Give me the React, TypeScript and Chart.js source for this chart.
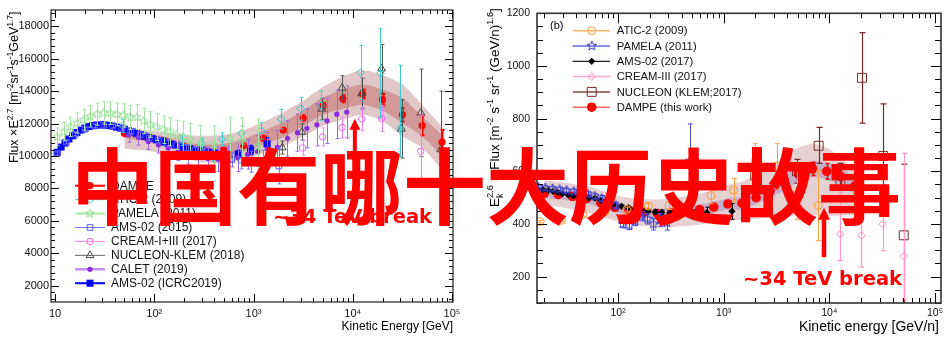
import React, { useEffect, useRef } from 'react';
import { Chart, registerables } from 'chart.js';

Chart.register(...registerables);

// ===================== LEFT PANEL (proton) =====================
const P_X_TICKS = [10, 100, 1000, 10000, 100000];
const P_X_LABELS = ['10', '10²', '10³', '10⁴', '10⁵'];
const P_Y_TICKS = [2000, 4000, 6000, 8000, 10000, 12000, 14000, 16000, 18000];

const DAMPE_P_E = [50, 79, 126, 200, 316, 501, 794, 1259, 1995, 3162, 5012, 7943, 12589, 19953, 31623, 50119, 79433];
const DAMPE_P = [11380, 11200, 10950, 10580, 10350, 10370, 10640, 11100, 11600, 12340, 13100, 13530, 13820, 13470, 12540, 11880, 10850];
const DAMPE_P_ERR = [40, 40, 40, 50, 60, 70, 80, 100, 120, 150, 180, 220, 280, 350, 420, 600, 750];
const DAMPE_P_OUT_HI = [11700, 11600, 11450, 11300, 11250, 11300, 11600, 12100, 12700, 13400, 14250, 14900, 15290, 15000, 14400, 13160, 11800];
const DAMPE_P_OUT_LO = [10450, 10350, 10150, 9850, 9600, 9550, 9750, 10150, 10600, 11200, 11850, 12250, 12540, 12150, 11200, 10500, 9150];
const DAMPE_P_IN_HI = [11550, 11420, 11200, 10900, 10700, 10750, 11050, 11550, 12100, 12800, 13600, 14100, 14400, 14100, 13570, 12440, 11300];
const DAMPE_P_IN_LO = [11100, 10950, 10700, 10300, 10050, 10050, 10300, 10700, 11150, 11850, 12550, 12900, 13160, 12800, 12030, 11200, 10000];

const ATIC_P_E = [48, 190, 302, 480, 760, 1200, 1900, 3000, 4800, 12000, 19000, 30000];
const ATIC_P = [11860, 10950, 10750, 11030, 11400, 11550, 12270, 12910, 13100, 15150, 15100, 11700];
const ATIC_P_ERR_HI = [400, 300, 350, 400, 450, 500, 600, 700, 900, 1670, 2750, 3900];
const ATIC_P_ERR_LO = [400, 300, 350, 400, 450, 500, 600, 700, 900, 1670, 2750, 1750];

const PAMELA_P_E = [10.5, 12.3, 14.3, 16.7, 19.5, 22.7, 26.5, 30.9, 36.1, 42.1, 49.1, 57.3, 66.8, 77.9, 90.9, 106, 124, 144, 168, 196, 229, 290, 400, 580, 760, 1100];
const PAMELA_P = [11180, 11500, 11800, 12030, 12230, 12440, 12580, 12650, 12650, 12560, 12500, 12380, 12400, 12150, 11950, 11780, 11620, 11500, 11300, 11200, 11000, 10830, 10700, 11100, 10900, 10600];
const PAMELA_P_ERR = [550, 570, 600, 620, 640, 660, 680, 700, 700, 700, 720, 740, 760, 780, 800, 820, 850, 880, 900, 950, 1000, 1050, 1150, 1300, 1450, 1700];

const AMS15_P_E = [10.5, 13, 16, 20, 25, 31, 38, 47, 58, 72, 89, 110, 136, 168, 208, 257, 318, 393, 486, 601, 750, 950, 1250, 1800];
const AMS15_P = [10150, 10850, 11350, 11650, 11850, 11900, 11850, 11700, 11500, 11300, 11100, 10950, 10800, 10650, 10500, 10350, 10200, 10000, 9850, 9780, 9750, 9650, 9550, 9380];
const AMS15_P_ERR = [100, 100, 100, 100, 100, 100, 110, 120, 130, 140, 150, 160, 170, 190, 210, 240, 280, 320, 380, 450, 550, 650, 800, 1100];

const CREAM_P_E = [3120, 4970, 7810, 12300, 19500, 48500];
const CREAM_P = [10500, 11180, 11760, 12280, 12310, 10290];
const CREAM_P_ERR = [450, 550, 650, 720, 800, 2200];

const NUCLEON_P_E = [1950, 3080, 4900, 7800, 12300, 19500, 31000, 48500, 77000];
const NUCLEON_P = [10520, 11480, 12900, 14200, 13850, 15380, 11670, 12660, 10400];
const NUCLEON_P_ERR = [400, 500, 650, 750, 950, 1500, 1800, 2700, 3600];

const CALET_P_E = [55, 69, 87, 110, 138, 174, 219, 275, 347, 437, 550, 692, 871, 1097, 1380, 1740, 2200, 2770, 3450, 4350, 5500, 6900, 8700];
const CALET_P = [11300, 11150, 10900, 10700, 10500, 10300, 10100, 9950, 9850, 9800, 9800, 9900, 10100, 10300, 10450, 10530, 11090, 11440, 11710, 11920, 12170, 12580, 12710];
const CALET_P_ERR = [450, 470, 500, 520, 550, 580, 600, 650, 700, 750, 800, 850, 900, 950, 1000, 1050, 1100, 1150, 1200, 1300, 1400, 1500, 1600];

const AMS19_P_E = [10.5, 11.5, 12.6, 13.8, 15.1, 16.6, 18.2, 20, 22, 24, 26.3, 28.8, 31.6, 34.7, 38, 41.7, 45.7, 50, 55, 60, 66, 72, 79, 87, 95, 105, 115, 126, 138, 151, 166, 182, 200, 230, 265, 300, 350, 410, 480, 550, 700, 935, 1370];
const AMS19_P = [10230, 10550, 10800, 11050, 11250, 11450, 11600, 11720, 11820, 11880, 11910, 11920, 11910, 11880, 11840, 11780, 11720, 11650, 11560, 11480, 11400, 11320, 11230, 11150, 11070, 11000, 10930, 10860, 10790, 10720, 10650, 10590, 10520, 10440, 10380, 10320, 10250, 10180, 10080, 9960, 10120, 10370, 10740];
const AMS19_P_ERR = [50, 50, 50, 50, 50, 50, 50, 50, 50, 50, 50, 50, 50, 50, 50, 50, 50, 50, 50, 50, 50, 50, 50, 50, 50, 55, 55, 60, 60, 65, 70, 75, 80, 85, 90, 100, 110, 125, 150, 180, 220, 280, 380];

const P_ARROW = { x: 10500, top: 12300, bottom: 8500 };

// ===================== RIGHT PANEL (helium) =====================
const HE_X_TICKS = [100, 1000, 10000, 100000];
const HE_X_LABELS = ['10²', '10³', '10⁴', '10⁵'];
const HE_Y_TICKS = [200, 400, 600, 800, 1000, 1200];

const DAMPE_HE_E = [20, 27.2, 37, 50.5, 68.7, 93.5, 127, 173, 235, 320, 435, 592, 805, 1095, 1490, 2027, 2757, 3750, 5100, 6940, 9440, 12840, 17470];
const DAMPE_HE = [516, 512, 505, 497, 480, 463, 452, 444, 440, 443, 448, 455, 464, 476, 479, 500, 526, 556, 590, 609, 600, 580, 545];
const DAMPE_HE_ERR = [3, 3, 3, 3, 3, 3, 3, 4, 4, 5, 6, 7, 8, 10, 11, 13, 15, 18, 21, 25, 30, 36, 45];
const DAMPE_HE_OUT_HI = [565, 560, 552, 545, 528, 510, 500, 495, 493, 497, 505, 515, 530, 548, 560, 590, 620, 655, 690, 705, 690, 650, 610];
const DAMPE_HE_OUT_LO = [470, 465, 455, 445, 428, 412, 400, 392, 388, 388, 392, 398, 405, 412, 415, 420, 425, 430, 432, 432, 430, 432, 435];
const DAMPE_HE_IN_HI = [535, 530, 523, 515, 498, 481, 470, 462, 458, 461, 467, 474, 485, 498, 503, 525, 553, 585, 620, 640, 632, 612, 578];
const DAMPE_HE_IN_LO = [497, 494, 487, 479, 462, 445, 434, 426, 422, 425, 429, 436, 443, 454, 455, 475, 499, 527, 560, 578, 568, 548, 512];

const ATIC_HE_E = [18.3, 29.2, 46.9, 75.3, 121, 194, 305, 480, 756, 1240, 2000, 3200, 4960, 7860];
const ATIC_HE = [409, 414, 436, 446, 455, 468, 470, 474, 508, 528, 640, 620, 516, 470];
const ATIC_HE_ERR = [5, 5, 6, 7, 9, 11, 14, 18, 30, 45, 65, 85, 100, 133];

const PAMELA_HE_E = [17.6, 20.5, 24, 28, 32.5, 38, 44, 51.5, 60, 70, 81.5, 95, 111, 128, 145, 167, 190, 216, 250, 290, 480];
const PAMELA_HE = [540, 537, 534, 531, 527, 523, 518, 513, 505, 497, 488, 470, 400, 395, 411, 430, 420, 399, 415, 405, 640];
const PAMELA_HE_ERR_HI = [8, 8, 8, 8, 8, 9, 9, 10, 10, 11, 12, 13, 15, 16, 17, 18, 20, 22, 25, 28, 140];
const PAMELA_HE_ERR_LO = [8, 8, 8, 8, 8, 9, 9, 10, 10, 11, 12, 13, 15, 16, 17, 18, 20, 22, 25, 28, 160];

const AMS_HE_E = [17.6, 19.5, 21.8, 24.2, 26.8, 29.8, 33.8, 37.6, 42, 47, 53, 60.5, 68.5, 78, 90, 108, 125, 145, 168, 194, 225, 259, 310, 373, 499, 693, 1197];
const AMS_HE = [531, 530, 528, 524, 520, 515, 510, 507, 504, 501, 499, 498, 490, 481, 474, 467, 462, 457, 452, 448, 446, 444, 440, 436, 440, 444, 448];
const AMS_HE_ERR = [4, 4, 4, 4, 4, 4, 4, 4, 4, 4, 4, 5, 5, 5, 5, 5, 6, 6, 7, 7, 8, 9, 10, 12, 15, 20, 30];

const CREAM_HE_E = [4950, 12700, 20100, 32000, 50600];
const CREAM_HE = [479, 362, 356, 399, 278];
const CREAM_HE_ERR_HI = [60, 170, 200, 140, 390];
const CREAM_HE_ERR_LO = [60, 100, 120, 100, 165];

const NUCLEON_HE_E = [1990, 4950, 7920, 12700, 20400, 32300, 50600];
const NUCLEON_HE = [584, 600, 697, 560, 955, 658, 357];
const NUCLEON_HE_ERR_HI = [25, 45, 70, 70, 172, 198, 270];
const NUCLEON_HE_ERR_LO = [25, 45, 67, 70, 172, 198, 300];

const HE_ARROW = { x: 8900, top: 462, bottom: 274 };

// ===================== helpers =====================
const SANS = '"Liberation Sans", Arial, Helvetica, sans-serif';

function pts(E: number[], V: number[]) {
  return E.map((e, i) => ({ x: e, y: V[i] }));
}

function makeStar(color: string, r: number, lw: number) {
  const s = Math.ceil(r * 2 + 4);
  const c = document.createElement('canvas');
  c.width = s;
  c.height = s;
  const ctx = c.getContext('2d')!;
  ctx.strokeStyle = color;
  ctx.lineWidth = lw;
  ctx.beginPath();
  for (let i = 0; i < 10; i++) {
    const rr = i % 2 === 0 ? r : r * 0.45;
    const a = -Math.PI / 2 + (i * Math.PI) / 5;
    const px = s / 2 + rr * Math.cos(a);
    const py = s / 2 + rr * Math.sin(a);
    if (i === 0) ctx.moveTo(px, py);
    else ctx.lineTo(px, py);
  }
  ctx.closePath();
  ctx.stroke();
  return c;
}

function drawMarker(ctx: CanvasRenderingContext2D, m: any, x: number, y: number) {
  const r = m.radius;
  if (m.image) {
    ctx.drawImage(m.image, x - m.image.width / 2, y - m.image.height / 2);
    return;
  }
  ctx.beginPath();
  if (m.style === 'circle') ctx.arc(x, y, r, 0, Math.PI * 2);
  else if (m.style === 'rect') {
    const h = r * Math.SQRT1_2;
    ctx.rect(x - h, y - h, 2 * h, 2 * h);
  } else if (m.style === 'rectRot') {
    ctx.moveTo(x - r, y);
    ctx.lineTo(x, y - r);
    ctx.lineTo(x + r, y);
    ctx.lineTo(x, y + r);
    ctx.closePath();
  } else if (m.style === 'triangle') {
    for (let k = 0; k < 3; k++) {
      const a = (k * 2 * Math.PI) / 3;
      const px = x + Math.sin(a) * r;
      const py = y - Math.cos(a) * r;
      if (k === 0) ctx.moveTo(px, py);
      else ctx.lineTo(px, py);
    }
    ctx.closePath();
  }
  if (m.filled) {
    ctx.fillStyle = m.color;
    ctx.fill();
  } else {
    ctx.strokeStyle = m.color;
    ctx.lineWidth = 1;
    ctx.stroke();
  }
}

function series(E: number[], V: number[], m: any, errHi: number[] | null, errLo: number[] | null, errColor: string, errWidth = 1, cap = 2) {
  return {
    type: 'scatter',
    data: pts(E, V),
    showLine: false,
    pointStyle: m.image || m.style,
    pointRadius: m.radius,
    pointHoverRadius: m.radius,
    pointBorderColor: m.color,
    pointBackgroundColor: m.filled ? m.color : 'rgba(0,0,0,0)',
    pointBorderWidth: m.filled ? 0 : 1,
    errHi,
    errLo: errLo || errHi,
    errColor,
    errWidth,
    errCap: cap,
    order: 1,
  };
}

function band(E: number[], hi: number[], lo: number[], color: string) {
  return [
    { type: 'line', data: pts(E, hi), borderWidth: 0, pointRadius: 0, fill: '+1', backgroundColor: color, tension: 0.25, order: 10 },
    { type: 'line', data: pts(E, lo), borderWidth: 0, pointRadius: 0, fill: false, backgroundColor: color, tension: 0.25, order: 10 },
  ];
}

const errorBarPlugin = {
  id: 'errbars',
  beforeDatasetDraw(chart: any, args: any) {
    const ds: any = chart.data.datasets[args.index];
    if (!ds.errHi) return;
    const { ctx, chartArea: ca } = chart;
    const x = chart.scales.x;
    const y = chart.scales.y;
    ctx.save();
    ctx.beginPath();
    ctx.rect(ca.left, ca.top, ca.right - ca.left, ca.bottom - ca.top);
    ctx.clip();
    ctx.strokeStyle = ds.errColor;
    ctx.lineWidth = ds.errWidth;
    ctx.beginPath();
    ds.data.forEach((p: any, i: number) => {
      const px = Math.round(x.getPixelForValue(p.x)) + 0.5;
      const yh = y.getPixelForValue(p.y + ds.errHi[i]);
      const yl = y.getPixelForValue(p.y - ds.errLo[i]);
      ctx.moveTo(px, yh);
      ctx.lineTo(px, yl);
      if (ds.errCap > 0) {
        ctx.moveTo(px - ds.errCap, yh);
        ctx.lineTo(px + ds.errCap, yh);
        ctx.moveTo(px - ds.errCap, yl);
        ctx.lineTo(px + ds.errCap, yl);
      }
    });
    ctx.stroke();
    ctx.restore();
  },
};

function framePlugin(cfg: any) {
  return {
    id: 'frame',
    afterDatasetsDraw(chart: any) {
      const { ctx, chartArea: ca } = chart;
      const x = chart.scales.x;
      const y = chart.scales.y;
      ctx.save();
      // arrow
      if (cfg.arrow) {
        const a = cfg.arrow;
        const ax = x.getPixelForValue(a.x);
        const yt = y.getPixelForValue(a.top);
        const yb = y.getPixelForValue(a.bottom);
        ctx.fillStyle = '#ff0000';
        ctx.fillRect(ax - a.w / 2, yt + a.head * 0.8, a.w, yb - yt - a.head * 0.8);
        ctx.beginPath();
        ctx.moveTo(ax, yt);
        ctx.lineTo(ax + a.hw, yt + a.head);
        ctx.lineTo(ax - a.hw, yt + a.head);
        ctx.closePath();
        ctx.fill();
      }
      ctx.strokeStyle = '#000';
      ctx.lineWidth = 1;
      ctx.beginPath();
      const d0 = Math.floor(Math.log10(x.min));
      const d1 = Math.ceil(Math.log10(x.max));
      for (let d = d0; d <= d1; d++) {
        for (let m = 1; m <= 9; m++) {
          const v = m * Math.pow(10, d);
          if (v < x.min || v > x.max) continue;
          const px = Math.round(x.getPixelForValue(v)) + 0.5;
          const len = m === 1 ? cfg.xMajor : cfg.xMinor;
          ctx.moveTo(px, ca.bottom);
          ctx.lineTo(px, ca.bottom - len);
          ctx.moveTo(px, ca.top);
          ctx.lineTo(px, ca.top + len);
        }
      }
      const start = Math.ceil(y.min / cfg.yMinorStep) * cfg.yMinorStep;
      for (let v = start; v <= y.max + 1e-6; v += cfg.yMinorStep) {
        const q = v / cfg.yMajorStep;
        const major = Math.abs(q - Math.round(q)) < 1e-6;
        const len = major ? cfg.yMajor : cfg.yMinor;
        const py = Math.round(y.getPixelForValue(v)) + 0.5;
        ctx.moveTo(ca.left, py);
        ctx.lineTo(ca.left + len, py);
        ctx.moveTo(ca.right, py);
        ctx.lineTo(ca.right - len, py);
      }
      ctx.stroke();
      ctx.lineWidth = cfg.frameWidth;
      ctx.strokeStyle = cfg.frameColor;
      ctx.strokeRect(ca.left, ca.top, ca.right - ca.left, ca.bottom - ca.top);
      ctx.restore();
    },
  };
}

function drawRich(ctx: CanvasRenderingContext2D, segs: any[], x: number, y: number, size: number, rotate: boolean) {
  ctx.save();
  ctx.translate(x, y);
  if (rotate) ctx.rotate(-Math.PI / 2);
  ctx.fillStyle = '#000';
  ctx.textBaseline = 'alphabetic';
  ctx.textAlign = 'left';
  let cx = 0;
  const small = size * 0.68;
  for (const s of segs) {
    if (s.t === 'n') {
      ctx.font = `${size}px ${SANS}`;
      ctx.fillText(s.s, cx, 0);
      cx += ctx.measureText(s.s).width;
    } else if (s.t === 'sup') {
      ctx.font = `${small}px ${SANS}`;
      ctx.fillText(s.s, cx, -size * 0.42);
      cx += ctx.measureText(s.s).width;
    } else if (s.t === 'ss') {
      ctx.font = `${small}px ${SANS}`;
      ctx.fillText(s.s, cx, -size * 0.42);
      ctx.fillText(s.sub, cx, size * 0.28);
      cx += Math.max(ctx.measureText(s.s).width, ctx.measureText(s.sub).width);
    }
  }
  ctx.restore();
}

function decorPlugin(cfg: any) {
  return {
    id: 'decor',
    afterDraw(chart: any) {
      const ctx = chart.ctx;
      drawRich(ctx, cfg.yTitle, cfg.yTitleX, cfg.yTitleY, cfg.yTitleSize, true);
      ctx.save();
      ctx.font = `${cfg.xTitleSize}px ${SANS}`;
      ctx.fillStyle = '#000';
      ctx.textAlign = 'right';
      ctx.textBaseline = 'alphabetic';
      ctx.fillText(cfg.xTitle, cfg.xTitleX, cfg.xTitleY);
      if (cfg.tag) {
        ctx.textAlign = 'left';
        ctx.font = `${cfg.tag.size}px ${SANS}`;
        ctx.fillText(cfg.tag.text, cfg.tag.x, cfg.tag.y);
      }
      const L = cfg.legend;
      ctx.font = `${L.size}px ${SANS}`;
      ctx.textBaseline = 'middle';
      ctx.textAlign = 'left';
      L.items.forEach((it: any, i: number) => {
        const yy = L.y0 + i * L.dy;
        ctx.strokeStyle = it.line;
        ctx.lineWidth = it.lw;
        ctx.beginPath();
        ctx.moveTo(L.x0, yy);
        ctx.lineTo(L.x1, yy);
        ctx.stroke();
        drawMarker(ctx, it.m, L.mx, yy);
        ctx.fillStyle = '#111';
        ctx.fillText(it.label, L.tx, yy + 0.5);
      });
      ctx.restore();
    },
  };
}

function buildLeft(canvas: HTMLCanvasElement) {
  const star = makeStar('#8fd98f', 4.5, 1);
  const mDampe = { style: 'circle', radius: 3.6, color: '#ff0000', filled: true };
  const mAtic = { style: 'rectRot', radius: 3.8, color: '#2ec4c8', filled: false };
  const mPamela = { style: 'star', radius: 4.5, color: '#8fd98f', filled: false, image: star };
  const mAms15 = { style: 'rect', radius: 4, color: '#5b5bff', filled: false };
  const mCream = { style: 'circle', radius: 3.2, color: '#f060f0', filled: false };
  const mNucleon = { style: 'triangle', radius: 4.5, color: '#444444', filled: false };
  const mCalet = { style: 'circle', radius: 2.6, color: '#8a2be2', filled: true };
  const mAms19 = { style: 'rect', radius: 5, color: '#0000ff', filled: true };

  const datasets: any[] = [
    ...band(DAMPE_P_E, DAMPE_P_OUT_HI, DAMPE_P_OUT_LO, 'rgba(165,85,85,0.33)'),
    ...band(DAMPE_P_E, DAMPE_P_IN_HI, DAMPE_P_IN_LO, 'rgba(195,70,70,0.38)'),
    series(PAMELA_P_E, PAMELA_P, mPamela, PAMELA_P_ERR, null, '#a6e3a6', 1, 2),
    series(AMS15_P_E, AMS15_P, mAms15, AMS15_P_ERR, null, '#7777ff', 1, 2),
    series(CALET_P_E, CALET_P, mCalet, CALET_P_ERR, null, '#a066f0', 1, 2),
    series(ATIC_P_E, ATIC_P, mAtic, ATIC_P_ERR_HI, ATIC_P_ERR_LO, '#40cccc', 1, 2),
    series(CREAM_P_E, CREAM_P, mCream, CREAM_P_ERR, null, '#f080f0', 1, 2),
    series(NUCLEON_P_E, NUCLEON_P, mNucleon, NUCLEON_P_ERR, null, '#555555', 1, 2),
    series(AMS19_P_E, AMS19_P, mAms19, AMS19_P_ERR, null, '#0000ff', 1.5, 2),
    series(DAMPE_P_E, DAMPE_P, mDampe, DAMPE_P_ERR, null, '#ff0000', 2, 2),
  ];

  return new Chart(canvas, {
    type: 'scatter',
    data: { datasets },
    options: {
      animation: false,
      responsive: false,
      events: [],
      layout: { padding: { left: 0, right: 27, top: 10, bottom: 0 } },
      plugins: { legend: { display: false }, tooltip: { enabled: false } },
      scales: {
        x: {
          type: 'logarithmic',
          min: 9.1,
          max: 102400,
          grid: { display: false, drawTicks: false },
          border: { display: false },
          afterBuildTicks: (s: any) => { s.ticks = P_X_TICKS.map((v) => ({ value: v })); },
          afterFit: (s: any) => { s.height = 50; },
          ticks: {
            autoSkip: false,
            maxRotation: 0,
            padding: 5,
            color: '#111',
            font: { family: SANS, size: 11 },
            callback: (_v: any, i: number) => P_X_LABELS[i],
          },
        },
        y: {
          type: 'linear',
          min: 1000,
          max: 19000,
          grid: { display: false, drawTicks: false },
          border: { display: false },
          afterBuildTicks: (s: any) => { s.ticks = P_Y_TICKS.map((v) => ({ value: v })); },
          afterFit: (s: any) => { s.width = 51; },
          ticks: {
            padding: 2,
            color: '#111',
            font: { family: SANS, size: 11 },
            callback: (v: any) => String(v),
          },
        },
      },
    } as any,
    plugins: [
      errorBarPlugin,
      framePlugin({ xMajor: 8, xMinor: 4, yMajor: 8, yMinor: 4, yMinorStep: 400, yMajorStep: 2000, frameWidth: 1.2, frameColor: '#222', arrow: { ...P_ARROW, w: 4, hw: 5.5, head: 11 } }),
      decorPlugin({
        yTitle: [
          { t: 'n', s: 'Flux ×E' }, { t: 'sup', s: '2.7' }, { t: 'n', s: ' [m' }, { t: 'sup', s: '-2' },
          { t: 'n', s: 'sr' }, { t: 'sup', s: '-1' }, { t: 'n', s: 's' }, { t: 'sup', s: '-1' },
          { t: 'n', s: 'GeV' }, { t: 'sup', s: '1.7' }, { t: 'n', s: ']' },
        ],
        yTitleX: 18,
        yTitleY: 163,
        yTitleSize: 12.5,
        xTitle: 'Kinetic Energy [GeV]',
        xTitleX: 453,
        xTitleY: 330,
        xTitleSize: 12,
        legend: {
          x0: 75, x1: 105, mx: 90, tx: 111, y0: 185.7, dy: 13.93, size: 12,
          items: [
            { label: 'DAMPE', line: '#ff0000', lw: 2, m: mDampe },
            { label: 'ATIC-2 (2009)', line: '#40cccc', lw: 1, m: mAtic },
            { label: 'PAMELA (2011)', line: '#b5ebb5', lw: 2.5, m: mPamela },
            { label: 'AMS-02 (2015)', line: '#7777ff', lw: 1, m: mAms15 },
            { label: 'CREAM-I+III (2017)', line: '#f080f0', lw: 1, m: mCream },
            { label: 'NUCLEON-KLEM (2018)', line: '#666666', lw: 1, m: mNucleon },
            { label: 'CALET (2019)', line: '#c090f5', lw: 2.5, m: mCalet },
            { label: 'AMS-02 (ICRC2019)', line: '#0000ff', lw: 2, m: mAms19 },
          ],
        },
      }),
    ],
  } as any);
}

function buildRight(canvas: HTMLCanvasElement) {
  const star = makeStar('#3a3acc', 5, 1);
  const mAtic = { style: 'circle', radius: 4, color: '#ff9933', filled: false };
  const mPamela = { style: 'star', radius: 5, color: '#3a3acc', filled: false, image: star };
  const mAms = { style: 'rectRot', radius: 3.6, color: '#000000', filled: true };
  const mCream = { style: 'rectRot', radius: 3.8, color: '#ff8fc0', filled: false };
  const mNucleon = { style: 'rect', radius: 6.3, color: '#7a2a2a', filled: false };
  const mDampe = { style: 'circle', radius: 4.8, color: '#ff0000', filled: true };

  const datasets: any[] = [
    ...band(DAMPE_HE_E, DAMPE_HE_OUT_HI, DAMPE_HE_OUT_LO, 'rgba(160,90,90,0.28)'),
    ...band(DAMPE_HE_E, DAMPE_HE_IN_HI, DAMPE_HE_IN_LO, 'rgba(110,115,215,0.33)'),
    series(ATIC_HE_E, ATIC_HE, mAtic, ATIC_HE_ERR, null, '#ffa040', 1, 2.5),
    series(PAMELA_HE_E, PAMELA_HE, mPamela, PAMELA_HE_ERR_HI, PAMELA_HE_ERR_LO, '#4a4ad8', 1, 2.5),
    series(CREAM_HE_E, CREAM_HE, mCream, CREAM_HE_ERR_HI, CREAM_HE_ERR_LO, '#ff99c8', 1.2, 2.5),
    series(NUCLEON_HE_E, NUCLEON_HE, mNucleon, NUCLEON_HE_ERR_HI, NUCLEON_HE_ERR_LO, '#7a2a2a', 1.2, 3),
    series(AMS_HE_E, AMS_HE, mAms, AMS_HE_ERR, null, '#000000', 1, 2),
    series(DAMPE_HE_E, DAMPE_HE, mDampe, DAMPE_HE_ERR, null, '#ff0000', 1.5, 2),
  ];

  return new Chart(canvas, {
    type: 'scatter',
    data: { datasets },
    options: {
      animation: false,
      responsive: false,
      events: [],
      layout: { padding: { left: 0, right: 10, top: 7, bottom: 0 } },
      plugins: { legend: { display: false }, tooltip: { enabled: false } },
      scales: {
        x: {
          type: 'logarithmic',
          min: 17.1,
          max: 114000,
          grid: { display: false, drawTicks: false },
          border: { display: false },
          afterBuildTicks: (s: any) => { s.ticks = HE_X_TICKS.map((v) => ({ value: v })); },
          afterFit: (s: any) => { s.height = 49; },
          ticks: {
            autoSkip: false,
            maxRotation: 0,
            padding: 4,
            color: '#111',
            font: { family: SANS, size: 10.5 },
            callback: (_v: any, i: number) => HE_X_LABELS[i],
          },
        },
        y: {
          type: 'linear',
          min: 100,
          max: 1200,
          grid: { display: false, drawTicks: false },
          border: { display: false },
          afterBuildTicks: (s: any) => { s.ticks = HE_Y_TICKS.map((v) => ({ value: v })); },
          afterFit: (s: any) => { s.width = 57; },
          ticks: {
            padding: 7,
            color: '#111',
            font: { family: SANS, size: 10.5 },
            callback: (v: any) => String(v),
          },
        },
      },
    } as any,
    plugins: [
      errorBarPlugin,
      framePlugin({ xMajor: 10, xMinor: 5, yMajor: 10, yMinor: 6, yMinorStep: 50, yMajorStep: 200, frameWidth: 1.6, frameColor: '#333', arrow: { ...HE_ARROW, w: 4.5, hw: 6, head: 12 } }),
      decorPlugin({
        yTitle: [
          { t: 'n', s: 'E' }, { t: 'ss', s: '2.6', sub: 'k' }, { t: 'n', s: ' × Flux [m' }, { t: 'sup', s: '-2' },
          { t: 'n', s: ' s' }, { t: 'sup', s: '-1' }, { t: 'n', s: ' sr' }, { t: 'sup', s: '-1' },
          { t: 'n', s: ' (GeV/n)' }, { t: 'sup', s: '1.6' }, { t: 'n', s: ']' },
        ],
        yTitleX: 19,
        yTitleY: 207,
        yTitleSize: 13.5,
        xTitle: 'Kinetic energy [GeV/n]',
        xTitleX: 459,
        xTitleY: 331,
        xTitleSize: 14,
        tag: { text: '(b)', x: 70, y: 29, size: 11 },
        legend: {
          x0: 92.7, x1: 130, mx: 111.7, tx: 136.7, y0: 30.7, dy: 15.3, size: 11.3,
          items: [
            { label: 'ATIC-2 (2009)', line: '#ffb060', lw: 1.5, m: mAtic },
            { label: 'PAMELA (2011)', line: '#6a6ae0', lw: 1.5, m: mPamela },
            { label: 'AMS-02 (2017)', line: '#222222', lw: 1.2, m: mAms },
            { label: 'CREAM-III (2017)', line: '#ffa8d0', lw: 1.5, m: mCream },
            { label: 'NUCLEON (KLEM;2017)', line: '#8a4a4a', lw: 1.5, m: mNucleon },
            { label: 'DAMPE (this work)', line: '#ff6060', lw: 1.5, m: mDampe },
          ],
        },
      }),
    ],
  } as any);
}

export default function App() {
  const leftRef = useRef<HTMLCanvasElement>(null);
  const rightRef = useRef<HTMLCanvasElement>(null);

  useEffect(() => {
    const c1 = buildLeft(leftRef.current!);
    const c2 = buildRight(rightRef.current!);
    return () => {
      c1.destroy();
      c2.destroy();
    };
  }, []);

  const breakStyle: any = {
    position: 'absolute',
    font: 'bold 19.5px "DejaVu Sans", sans-serif',
    lineHeight: 1,
    color: '#ff0000',
    whiteSpace: 'nowrap',
  };

  return (
    <div style={{ position: 'absolute', left: 0, top: 0, width: 951, height: 352, background: '#ffffff', overflow: 'hidden' }}>
      <canvas ref={leftRef} width={480} height={352} style={{ position: 'absolute', left: 0, top: 0, width: 480, height: 352 }} />
      <canvas ref={rightRef} width={471} height={352} style={{ position: 'absolute', left: 480, top: 0, width: 471, height: 352 }} />
      <div style={{ ...breakStyle, left: 273, top: 206.5 }}>~34 TeV break</div>
      <div style={{ ...breakStyle, left: 743, top: 268.5 }}>~34 TeV break</div>
      <div
        style={{
          position: 'absolute',
          left: 71,
          top: 141,
          fontFamily: '"Noto Sans CJK SC", sans-serif',
          fontWeight: 700,
          fontSize: 83,
          lineHeight: 1,
          color: '#ff0000',
          whiteSpace: 'nowrap',
        }}
      >
        中国有哪十大历史故事
      </div>
    </div>
  );
}
